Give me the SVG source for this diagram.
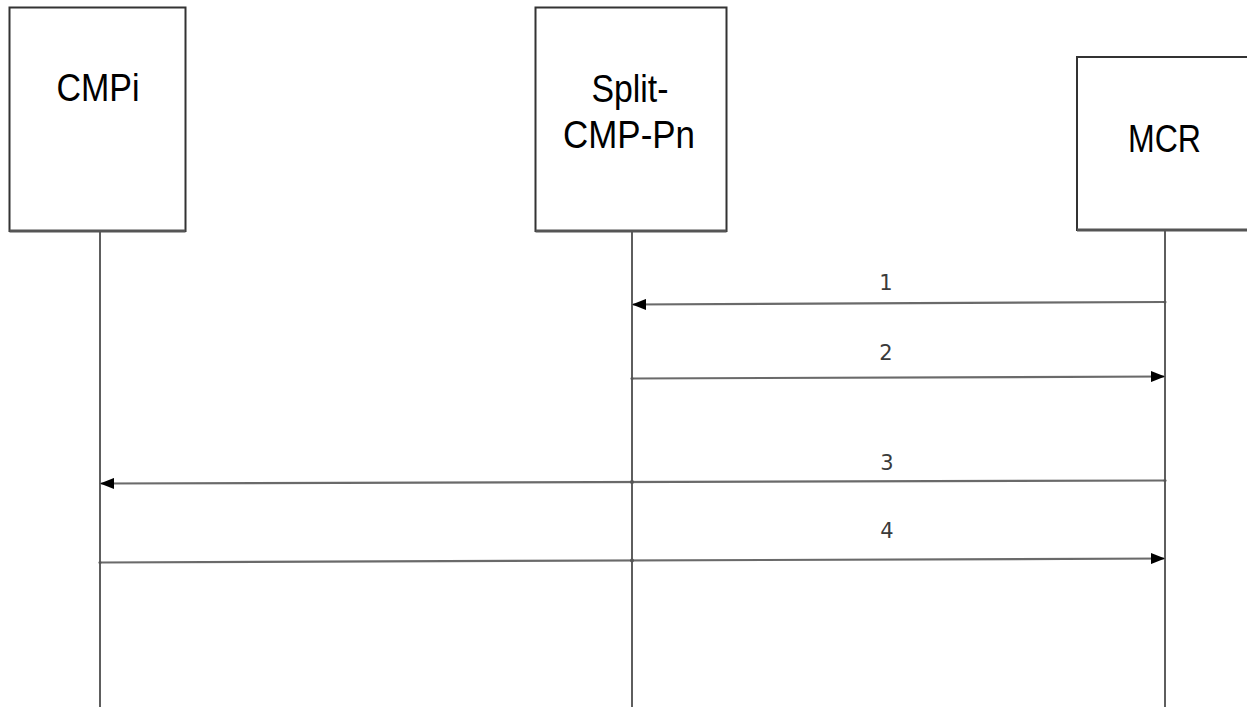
<svg xmlns="http://www.w3.org/2000/svg" width="1247" height="707" viewBox="0 0 1247 707">
<style>
.box{fill:#ffffff;stroke:#333333;stroke-width:2}
.shadow{stroke:#555555;stroke-width:3}
.title{font-family:"Liberation Sans",Arial,sans-serif;font-size:38px;fill:#000;text-anchor:middle}
.life{stroke:#5e5e5e;stroke-width:2;fill:none}
.msg{stroke:#6a6a6a;stroke-width:2.2;fill:none}
.lbl{font-family:"DejaVu Sans",Verdana,sans-serif;font-size:21px;fill:#3a3a3a;text-anchor:middle}
.dot{fill:#555}
</style>
<defs>
<marker id="ah" viewBox="0 0 14 11" refX="14" refY="5.5" markerWidth="14" markerHeight="11" markerUnits="userSpaceOnUse" orient="auto">
<path d="M0,0 L14,5.5 L0,11 z" fill="#000"/>
</marker>
</defs>
<rect width="1247" height="707" fill="#ffffff"/>
<g id="lifelines">
<line class="life" x1="100" y1="231" x2="100" y2="707"/>
<line class="life" x1="632" y1="231" x2="632" y2="707"/>
<line class="life" x1="1165" y1="231" x2="1165" y2="707"/>
</g>
<g id="node-cmpi">
<rect class="box" x="9.5" y="7.5" width="176" height="223.5"/>
<line class="shadow" x1="9.5" y1="231" x2="185.5" y2="231"/>
<text class="title" x="98" y="101" textLength="83" lengthAdjust="spacingAndGlyphs">CMPi</text>
</g>
<g id="node-split">
<rect class="box" x="535.5" y="7.5" width="191" height="223.5"/>
<line class="shadow" x1="535.5" y1="231" x2="726.5" y2="231"/>
<text class="title" x="630" y="102" textLength="77" lengthAdjust="spacingAndGlyphs">Split-</text>
<text class="title" x="629" y="148" textLength="132" lengthAdjust="spacingAndGlyphs">CMP-Pn</text>
</g>
<g id="node-mcr">
<rect class="box" x="1077" y="57" width="185" height="173"/>
<line class="shadow" x1="1077" y1="230" x2="1262" y2="230"/>
<text class="title" x="1164.5" y="152" textLength="73" lengthAdjust="spacingAndGlyphs">MCR</text>
</g>
<g id="connectors">
<line class="msg" x1="1165" y1="302" x2="632" y2="304.5" marker-end="url(#ah)"/>
<text class="lbl" x="886" y="290">1</text>
<line class="msg" x1="632" y1="378.5" x2="1165" y2="376.5" marker-end="url(#ah)"/>
<text class="lbl" x="886" y="360">2</text>
<line class="msg" x1="1165" y1="480.5" x2="100" y2="483.5" marker-end="url(#ah)"/>
<text class="lbl" x="887" y="470">3</text>
<line class="msg" x1="100" y1="562.5" x2="1165" y2="558.5" marker-end="url(#ah)"/>
<text class="lbl" x="887" y="538">4</text>
<circle class="dot" cx="632" cy="482" r="2"/>
<circle class="dot" cx="632" cy="560.5" r="2"/>
<circle class="dot" cx="1165" cy="302" r="1.5"/>
<circle class="dot" cx="632" cy="378.5" r="1.5"/>
<circle class="dot" cx="1165" cy="480.5" r="1.5"/>
<circle class="dot" cx="100" cy="562.5" r="1.5"/>
</g>
</svg>
